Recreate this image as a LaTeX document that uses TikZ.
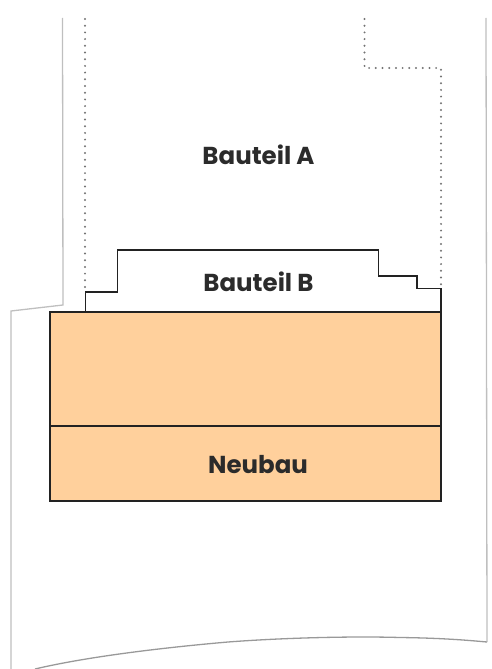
\documentclass[tikz,border=0pt]{standalone}
\usepackage{fontspec}
\setmainfont{Poppins}
\definecolor{orangefill}{HTML}{FFD09C}
\definecolor{lbl}{HTML}{2B2B2B}
\definecolor{edge}{HTML}{222222}
\tikzset{
  site/.style={draw=black!25,line width=1.3pt},
  sitecurve/.style={draw=black!40,line width=1.3pt},
  dots/.style={draw=black!55,line width=2.2pt,line cap=round,dash pattern=on 0pt off 6.7pt},
  wing/.style={draw=edge,line width=1.5pt,line join=miter},
  newb/.style={draw=edge,line width=1.3pt,fill=orangefill},
  lab/.style={font=\bfseries\fontsize{24.5}{28}\selectfont,text=lbl,inner sep=0pt}
}
\begin{document}
\begin{tikzpicture}[x=1pt,y=-1pt]
\useasboundingbox (0,0) rectangle (491,669);
\draw[site] (62.5,18) -- (63,305) -- (11,311) -- (11,669);
\draw[site] (486,18) -- (487,642);
\draw[sitecurve] (35,669) .. controls (90,656) and (170,647) .. (228,642) .. controls (280,638) and (350,636) .. (400,637.5) .. controls (440,638) and (465,640) .. (487,642);
\draw[dots] (85,19) -- (85,292);
\draw[dots] (364.5,19) -- (364.5,68) -- (441,68) -- (441,288);
\draw[wing] (85.5,312) -- (85.5,292) -- (117.5,292) -- (117.5,250) -- (378.5,250) -- (378.5,276) -- (417,276) -- (417,288.5) -- (441,288.5) -- (441,312);
\node[newb,minimum width=391pt,minimum height=114pt,anchor=north west,inner sep=0pt,outer sep=0pt] (upper) at (50,312) {};
\node[newb,minimum width=391pt,minimum height=75pt,anchor=north west,inner sep=0pt,outer sep=0pt] (lower) at (50,426) {};
\node[lab] (a) at (258.5,155) {Bauteil A};
\node[lab] (b) at (258.5,282) {Bauteil B};
\node[lab] (n) at (258,464.5) {Neubau};
\end{tikzpicture}
\end{document}
